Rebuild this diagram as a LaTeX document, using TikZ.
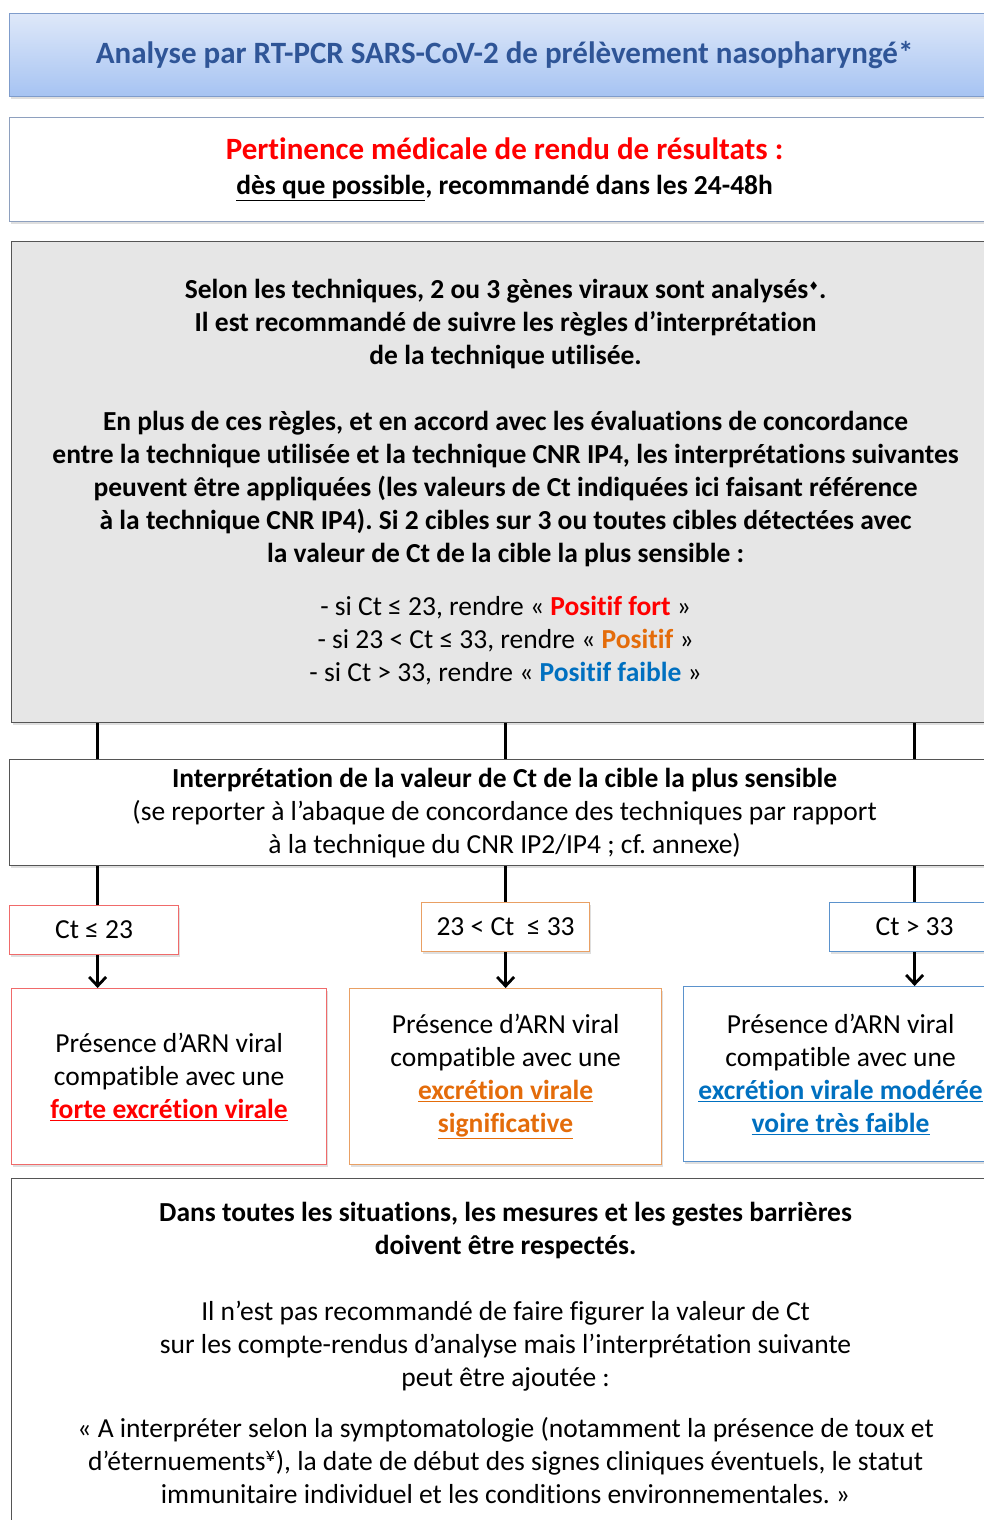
\documentclass[tikz,border=0pt]{standalone}
\usepackage{fontspec}
\setmainfont{Carlito}[RawFeature=-liga]
\newfontfamily\symfont{DejaVu Sans}
\usetikzlibrary{arrows.meta,shadows}
\frenchspacing
\definecolor{titleblue}{HTML}{2F5597}
\definecolor{titletop}{HTML}{DEE8F9}
\definecolor{titlebot}{HTML}{A6C3F2}
\definecolor{titleedge}{HTML}{7F9CCB}
\definecolor{boxedge}{HTML}{8EA0BE}
\definecolor{grayfill}{HTML}{E6E6E6}
\definecolor{grayedge}{HTML}{555555}
\definecolor{myred}{HTML}{FF0000}
\definecolor{myorange}{HTML}{E46C0A}
\definecolor{myblue}{HTML}{0070C0}
\definecolor{rededge}{HTML}{F06A6A}
\definecolor{orangeedge}{HTML}{E9A064}
\definecolor{blueedge}{HTML}{5B92CC}
\tikzset{
  x=1pt, y=-1pt,
  bodyfont/.style={font={\fontsize{27.5}{33}\selectfont}},
  panel/.style={draw, line width=1.2pt, align=center, inner sep=0pt, anchor=north west,
    drop shadow={shadow xshift=1.5pt, shadow yshift=-2pt, opacity=0.25}, bodyfont},
  link/.style={line width=3pt, black},
  arr/.style={line width=3pt, black, -{Straight Barb[length=9pt,width=17pt,line width=2.8pt]}},
}
\begin{document}
\begin{tikzpicture}
\useasboundingbox (0,0) rectangle (984,1520);
\clip (0,0) rectangle (984,1520);
\fill[white] (0,0) rectangle (984,1520);

% title box
\node[panel, draw=titleedge, top color=titletop, bottom color=titlebot,
  minimum width=990pt, minimum height=83pt, text=titleblue,
  font={\fontsize{31}{33}\selectfont\bfseries}] (title) at (9,13)
  {\raisebox{-3pt}{Analyse par RT-PCR SARS-CoV-2 de prélèvement nasopharyngé*}};

% pertinence box
\node[panel, draw=boxedge, fill=white, minimum width=990pt, minimum height=104pt,
  font={\fontsize{27.5}{35}\selectfont\bfseries}] (pert) at (9,117)
  {\textcolor{myred}{\fontsize{31}{35}\selectfont Pertinence médicale de rendu de résultats :}\\
   \underline{dès que possible}, recommandé dans les 24-48h};

% gray box
\node[panel, draw=grayedge, fill=grayfill, minimum width=988pt, minimum height=481pt] (rules) at (11,241)
  {\bfseries Selon les techniques, 2 ou 3 gènes viraux sont analysés\raisebox{0.6ex}{\symfont\fontsize{12}{12}\selectfont ♦}.\\
   \bfseries Il est recommandé de suivre les règles d’interprétation\\
   \bfseries de la technique utilisée.\\[33pt]
   \bfseries En plus de ces règles, et en accord avec les évaluations de concordance\\
   \bfseries entre la technique utilisée et la technique CNR IP4, les interprétations suivantes\\
   \bfseries peuvent être appliquées (les valeurs de Ct indiquées ici faisant référence\\
   \bfseries à la technique CNR IP4). Si 2 cibles sur 3 ou toutes cibles détectées avec\\
   \bfseries la valeur de Ct de la cible la plus sensible :\\[20pt]
   - si Ct ≤ 23, rendre « \textcolor{myred}{\bfseries Positif fort} »\\
   - si 23 < Ct ≤ 33, rendre « \textcolor{myorange}{\bfseries Positif} »\\
   - si Ct > 33, rendre « \textcolor{myblue}{\bfseries Positif faible} »};

% interpretation box
\node[panel, draw=grayedge, fill=white, minimum width=990pt, minimum height=106pt] (interp) at (9,759)
  {\bfseries Interprétation de la valeur de Ct de la cible la plus sensible\\
   (se reporter à l’abaque de concordance des techniques par rapport\\
   à la technique du CNR IP2/IP4 ; cf. annexe)};

% condition boxes
\node[panel, draw=rededge, fill=white, minimum width=169pt, minimum height=49pt] (c1) at (9,905) {Ct ≤ 23};
\node[panel, draw=orangeedge, fill=white, minimum width=168pt, minimum height=49pt] (c2) at (421,902) {23 < Ct \ ≤ 33};
\node[panel, draw=blueedge, fill=white, minimum width=170pt, minimum height=49pt] (c3) at (829,902) {Ct > 33};

% result boxes
\node[panel, draw=rededge, fill=white, minimum width=315pt, minimum height=176pt] (r1) at (11,988)
  {Présence d’ARN viral\\ compatible avec une\\
   \textcolor{myred}{\bfseries\underline{forte excrétion virale}}};
\node[panel, draw=orangeedge, fill=white, minimum width=312pt, minimum height=176pt] (r2) at (349,988)
  {Présence d’ARN viral\\ compatible avec une\\
   \textcolor{myorange}{\bfseries\underline{excrétion virale}}\\
   \textcolor{myorange}{\bfseries\underline{significative}}};
\node[panel, draw=blueedge, fill=white, minimum width=314pt, minimum height=175pt] (r3) at (683,986)
  {Présence d’ARN viral\\ compatible avec une\\
   \textcolor{myblue}{\bfseries\underline{excrétion virale modérée}}\\
   \textcolor{myblue}{\bfseries\underline{voire très faible}}};

% bottom box
\node[panel, draw=grayedge, fill=white, minimum width=988pt, minimum height=348pt] (final) at (11,1178)
  {\bfseries Dans toutes les situations, les mesures et les gestes barrières\\
   \bfseries doivent être respectés.\\[33pt]
   Il n’est pas recommandé de faire figurer la valeur de Ct\\
   sur les compte-rendus d’analyse mais l’interprétation suivante\\
   peut être ajoutée :\\[18pt]
   « A interpréter selon la symptomatologie (notamment la présence de toux et\\
   d’éternuements\textsuperscript{¥}), la date de début des signes cliniques éventuels, le statut\\
   immunitaire individuel et les conditions environnementales. »};

% connection points
\coordinate (k1) at ([xshift=3.5pt]c1.north);
\coordinate (k1s) at ([xshift=3.5pt]c1.south);

% connectors
\draw[link] (rules.south -| k1) -- (interp.north -| k1);
\draw[link] (rules.south -| c2) -- (interp.north -| c2);
\draw[link] (rules.south -| c3) -- (interp.north -| c3);
\draw[link] (interp.south -| k1) -- (k1);
\draw[link] (interp.south -| c2) -- (c2.north);
\draw[link] (interp.south -| c3) -- (c3.north);
\draw[arr] (k1s) -- (r1.north -| k1s);
\draw[arr] (c2.south) -- (r2.north -| c2);
\draw[arr] (c3.south) -- (r3.north -| c3);
\end{tikzpicture}
\end{document}
